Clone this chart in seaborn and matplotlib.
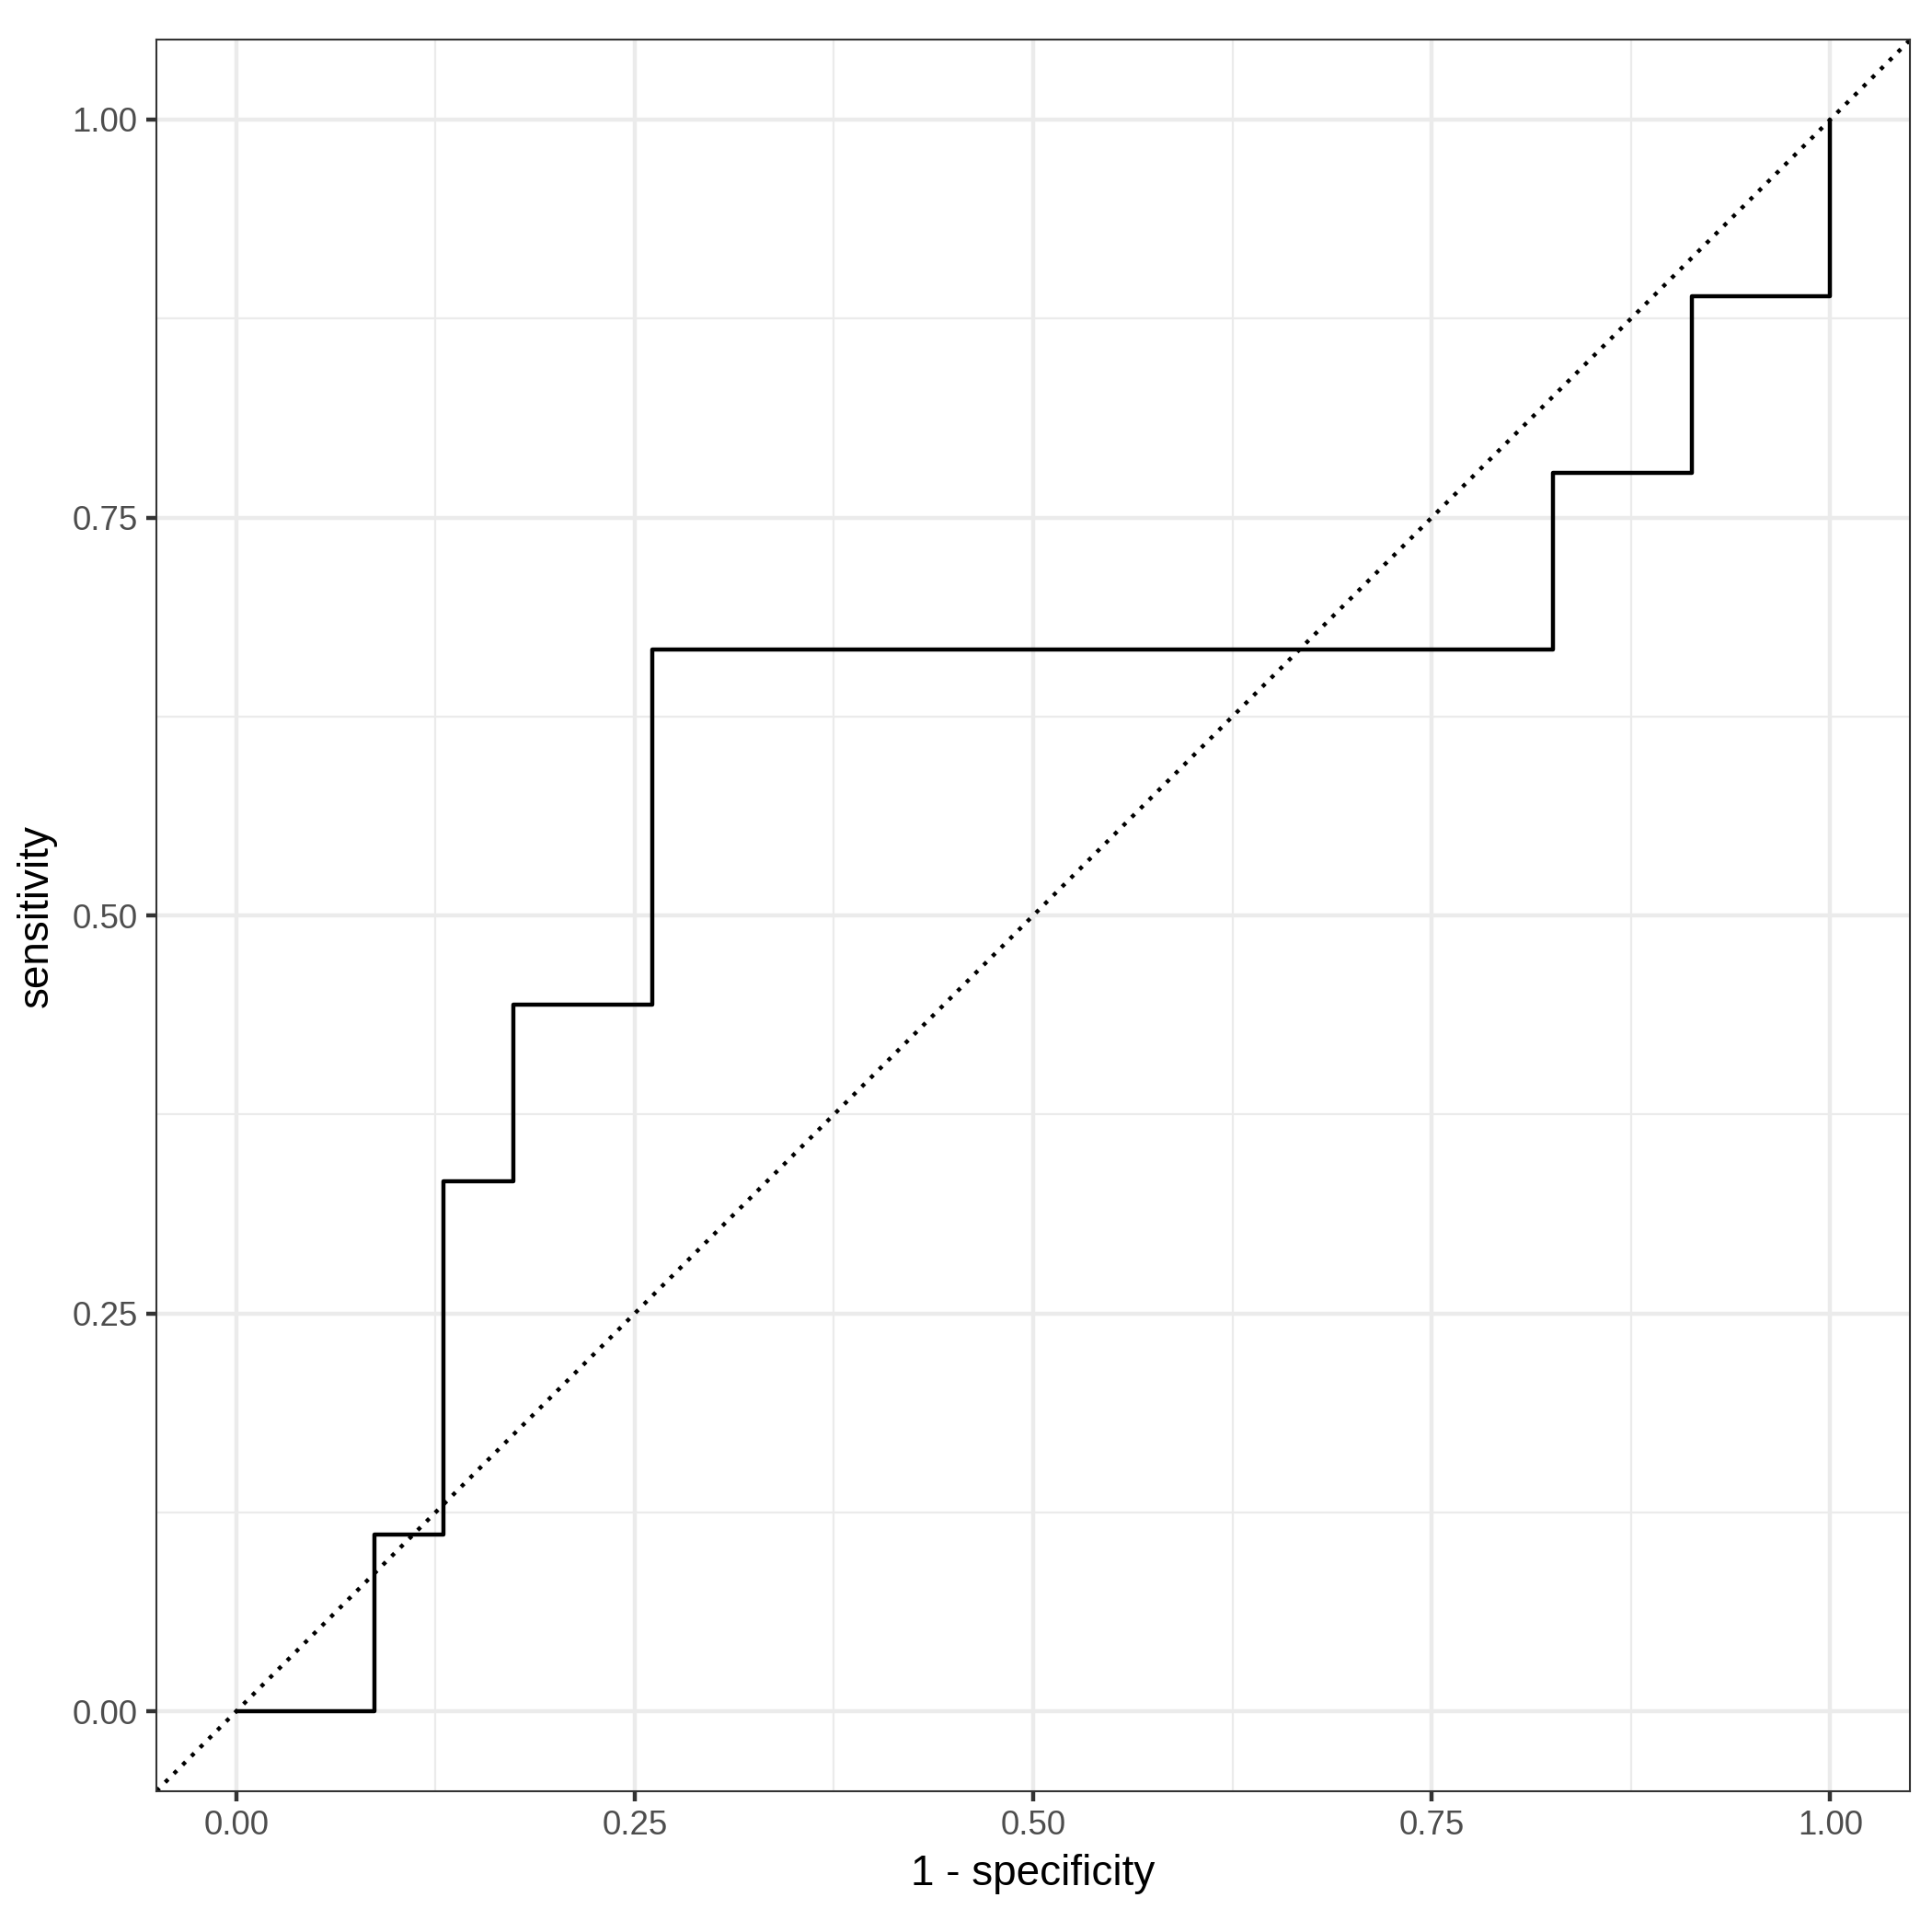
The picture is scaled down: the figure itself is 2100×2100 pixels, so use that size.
import numpy as np
import pandas as pd
import matplotlib
matplotlib.use("Agg")
import matplotlib.pyplot as plt
import seaborn as sns

# ROC path vertices (1 - specificity, sensitivity)
one_minus_spec = [0.0, 0.087, 0.087, 0.130, 0.130, 0.174, 0.174, 0.261, 0.261,
                  0.826, 0.826, 0.913, 0.913, 1.0, 1.0]
sensitivity = [0.0, 0.0, 0.111, 0.111, 0.333, 0.333, 0.444, 0.444, 0.667,
               0.667, 0.778, 0.778, 0.889, 0.889, 1.0]
major_ticks = [0.0, 0.25, 0.5, 0.75, 1.0]
tick_labels = ["0.00", "0.25", "0.50", "0.75", "1.00"]
minor_ticks = [0.125, 0.375, 0.625, 0.875]

df = pd.DataFrame({"fpr": one_minus_spec, "tpr": sensitivity})

sns.set_style("white")
plt.rcParams['font.family'] = ['Liberation Sans', 'DejaVu Sans']

fig = plt.figure(figsize=(7, 7), dpi=300)
ax = fig.add_axes([0.081, 0.073, 0.9076, 0.9063])

lw_major = 1.07
for t in major_ticks:
    ax.axvline(t, color="#EBEBEB", lw=lw_major, zorder=0)
    ax.axhline(t, color="#EBEBEB", lw=lw_major, zorder=0)
for t in minor_ticks:
    ax.axvline(t, color="#EBEBEB", lw=0.53, zorder=0)
    ax.axhline(t, color="#EBEBEB", lw=0.53, zorder=0)

# diagonal reference
ax.axline((0, 0), slope=1, color="black", lw=1.07, linestyle=(0, (1, 2)), zorder=2)

sns.lineplot(data=df, x="fpr", y="tpr", sort=False, estimator=None, color="black",
             lw=1.07, ax=ax, zorder=3)

ax.set_xlim(-0.05, 1.05)
ax.set_ylim(-0.05, 1.05)
ax.set_xticks(major_ticks)
ax.set_xticklabels(tick_labels)
ax.set_yticks(major_ticks)
ax.set_yticklabels(tick_labels)
ax.tick_params(axis="both", which="major", length=2.75, width=1.07, color="#333333",
               labelsize=8.8, labelcolor="#4D4D4D", pad=2.2, direction="out")
ax.tick_params(bottom=True, left=True)
for s in ax.spines.values():
    s.set_color("#333333")
    s.set_linewidth(0.5)
    s.set_visible(True)
ax.set_xlabel("1 - specificity", fontsize=11, color="black", labelpad=3)
ax.set_ylabel("sensitivity", fontsize=11, color="black", labelpad=4)

fig.savefig("out.png", dpi=300, facecolor="white")
